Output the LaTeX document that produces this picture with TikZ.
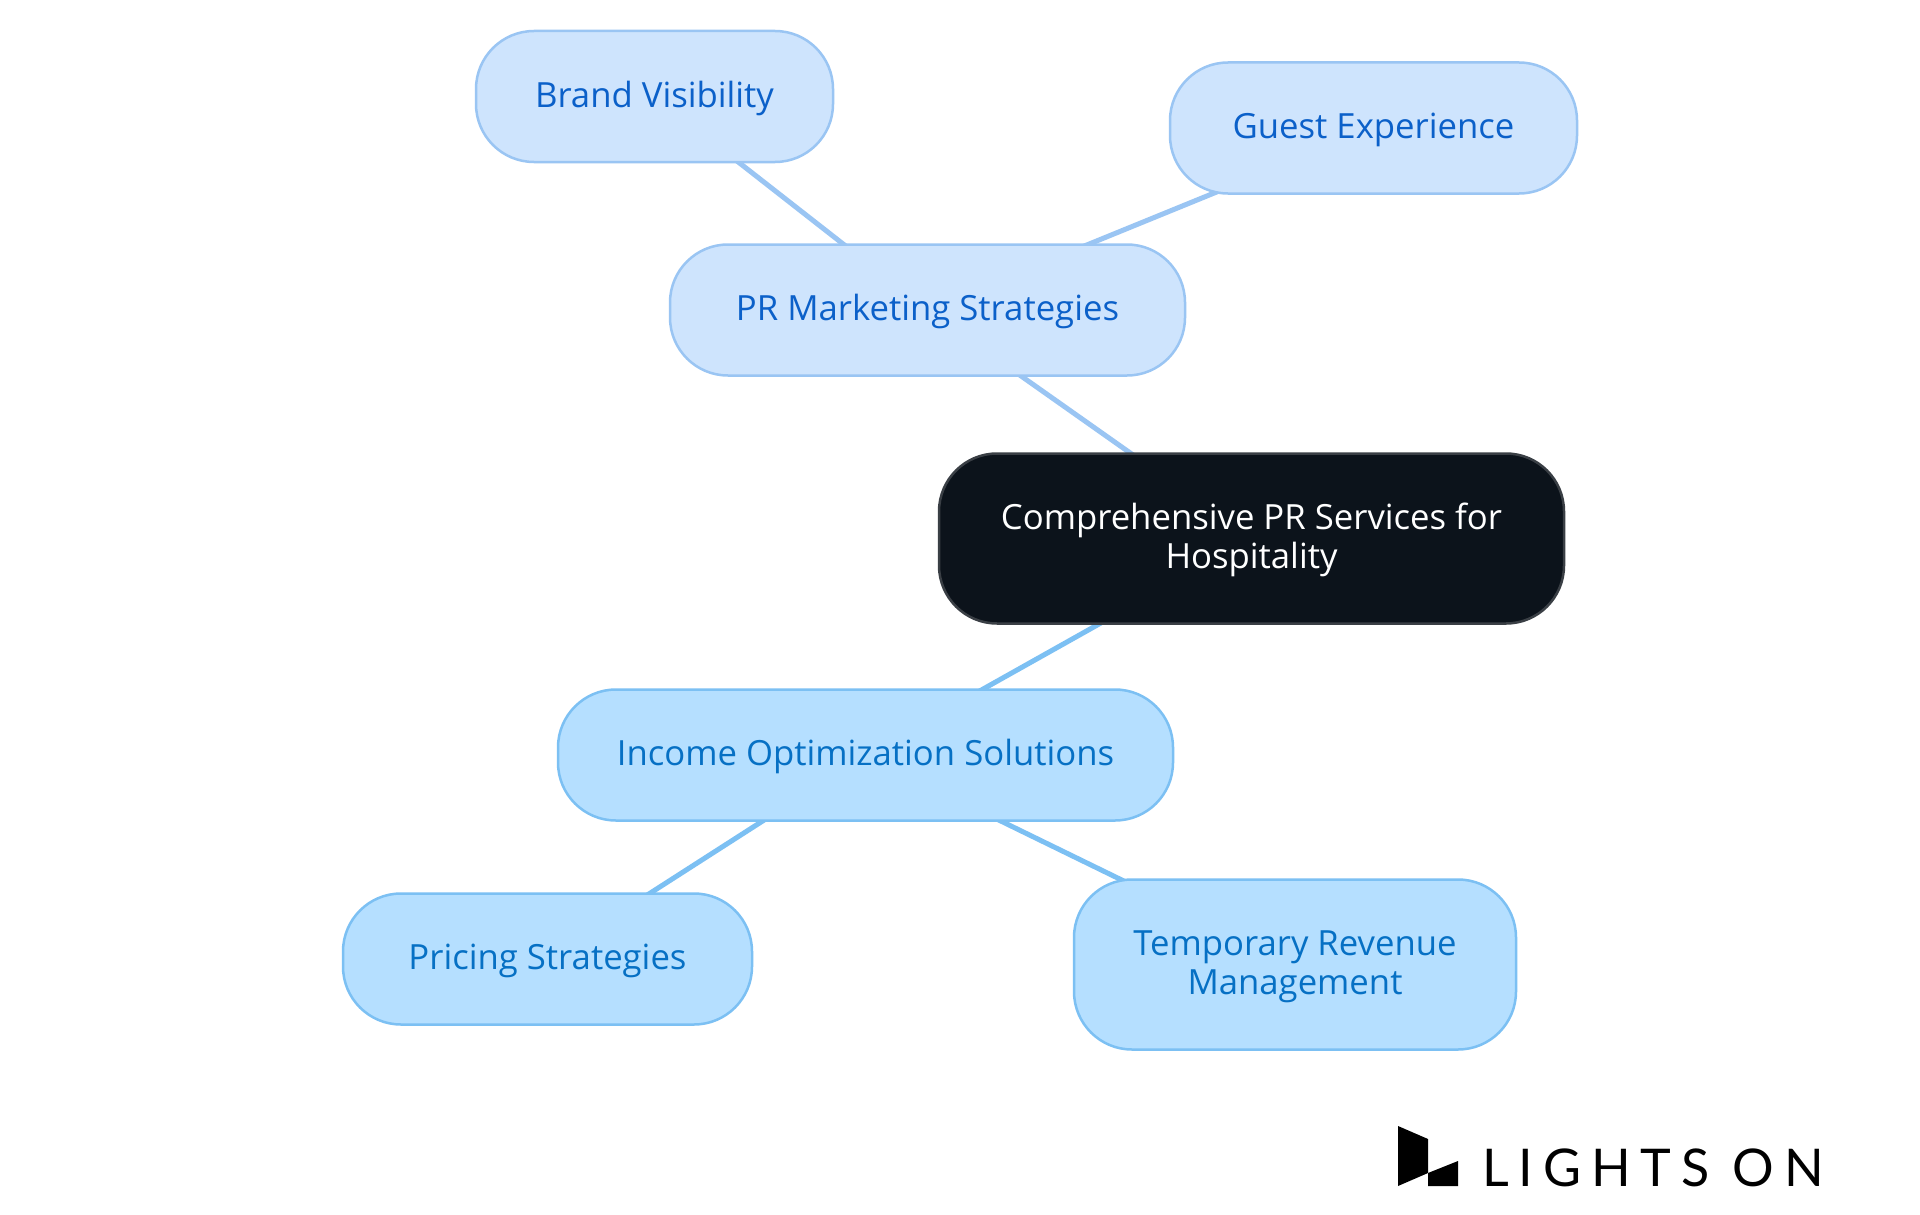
\documentclass[tikz,border=0pt]{standalone}
\usepackage{fontspec}
\setmainfont{Open Sans}
\newfontfamily\logofont[LetterSpace=19]{Lato}
\usetikzlibrary{backgrounds}
\definecolor{lblue}{HTML}{CEE4FD}
\definecolor{lline}{HTML}{9AC5F3}
\definecolor{ltext}{HTML}{0B60C9}
\definecolor{sblue}{HTML}{B5DFFF}
\definecolor{sline}{HTML}{7CC0F3}
\definecolor{stext}{HTML}{0670C4}
\definecolor{cfill}{HTML}{0C131B}
\definecolor{cline}{HTML}{3A3F45}
\tikzset{
  box/.style={draw,line width=2.5pt,rounded corners=58pt,align=center,inner sep=0pt,
    text height=31.5pt,text depth=10pt,
    font=\fontsize{34.7}{39}\selectfont},
  two/.style={text height=69.5pt,text depth=10pt},
  pr/.style={box,fill=lblue,draw=lline,text=ltext},
  inc/.style={box,fill=sblue,draw=sline,text=stext},
  central/.style={box,two,fill=cfill,draw=cline,text=white},
  linkA/.style={draw=lline,line width=5pt},
  linkB/.style={draw=sline,line width=5pt}
}
\newcommand{\bx}[7]{\node[#1,minimum width=#4pt,minimum height=#5pt] (#2) at (#6pt,-#7pt) {#3};}
\begin{document}
\begin{tikzpicture}[x=1pt,y=1pt]
\useasboundingbox (0,0) rectangle (1920,-1215);
\bx{pr}{brand}{Brand Visibility}{357}{131}{654.5}{96.5}
\bx{pr}{guest}{Guest Experience}{407}{131}{1373.5}{128}
\bx{pr}{mkt}{PR Marketing Strategies}{515}{131}{927.5}{310}
\bx{central}{core}{Comprehensive PR Services for\\Hospitality}{625}{170}{1251.5}{538.5}
\bx{inc}{income}{Income Optimization Solutions}{615}{131}{865.5}{755}
\bx{inc}{price}{Pricing Strategies}{409}{131}{547.5}{959}
\bx{inc,two}{temp}{Temporary Revenue\\Management}{442}{170}{1295}{964.5}
\begin{pgfonlayer}{background}
\fill[white] (0,0) rectangle (1920,-1215);
\draw[linkA] (brand.center) -- (mkt.center);
\draw[linkA] (guest.center) -- (mkt.center);
\draw[linkA] (mkt.center) -- (core.center);
\draw[linkB] (core.center) -- (income.center);
\draw[linkB] (income.center) -- (price.center);
\draw[linkB] (income.center) -- (temp.center);
\end{pgfonlayer}
\fill[black] (1398,-1126) -- (1428,-1139) -- (1428,-1173) -- (1398,-1186) -- cycle;
\fill[black] (1428,-1173) -- (1458,-1161) -- (1458,-1186) -- (1428,-1186) -- cycle;
\node[anchor=base west,inner sep=0pt,font=\logofont\fontsize{52}{52}\selectfont,text=black] (logo) at (1482,-1186) {LIGHTS ON};
\end{tikzpicture}
\end{document}
